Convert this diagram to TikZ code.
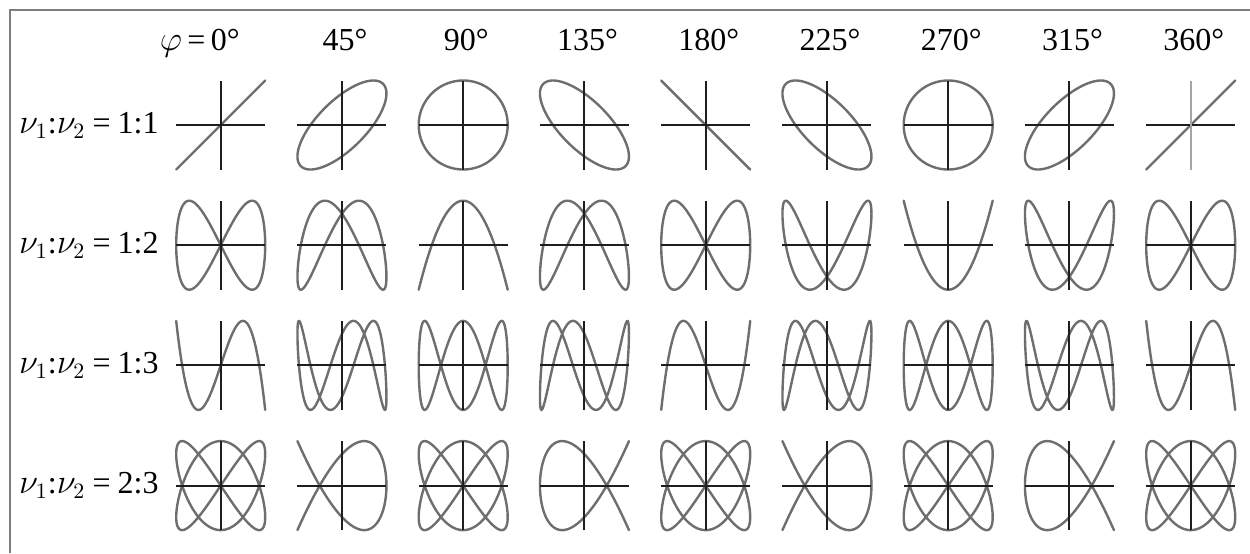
\documentclass[tikz,border=0pt]{standalone}
\usepackage{fontspec}
\setmainfont{Liberation Serif}
\definecolor{figgray}{RGB}{110,110,110}
\definecolor{axisblack}{RGB}{30,30,30}
\definecolor{framegray}{RGB}{125,125,125}
\begin{document}
\begin{tikzpicture}[x=0.5pt,y=0.5pt,
    fig/.style={figgray,line width=1.2pt,line join=round},
    ax/.style={line width=1pt},
    hdr/.style={font=\fontsize{16}{19}\selectfont,anchor=base,inner sep=0pt},
    lbl/.style={font=\fontsize{16}{19}\selectfont,anchor=base east,inner sep=0pt}]
  \useasboundingbox (0,0) rectangle (1250,-553);
  \draw[framegray,line width=1pt] (9.5,-553) -- (9.5,-9.5) -- (1250,-9.5);
  % phase headers
  \node[hdr,anchor=base east] (h0) at (240,-50) {$\varphi$\,=\,0°};
  \foreach \k/\p in {1/45,2/90,3/135,4/180,5/225,6/270,7/315,8/360}
    \node[hdr] (h\k) at (223.7+121.25*\k,-50) {\p°};
  % one row per frequency ratio
  \foreach \r/\a/\b in {0/1/1,1/1/2,2/1/3,3/2/3}{
    \node[lbl] (r\r) at (159,-133-120.2*\r) {$\nu_1$:$\nu_2$\:=\:\a:\b};
    \foreach \k in {0,...,8}{
      \pgfmathsetmacro\phase{45*\k}
      \pgfmathtruncatemacro\shade{(\r==0 && \k==8) ? 40 : 100}
      \begin{scope}[shift={(220.7+121.25*\k,-125-120.2*\r)}]
        \draw[fig] plot[domain=0:360,samples=361,variable=\t]
          ({44.5*sin(\a*\t)},{44.5*sin(\b*\t+\phase)});
        \draw[ax,axisblack] (-44.5,0) -- (44.5,0);
        \draw[ax,axisblack!\shade] (0,-44.5) -- (0,44.5);
      \end{scope}
    }
  }
\end{tikzpicture}
\end{document}
